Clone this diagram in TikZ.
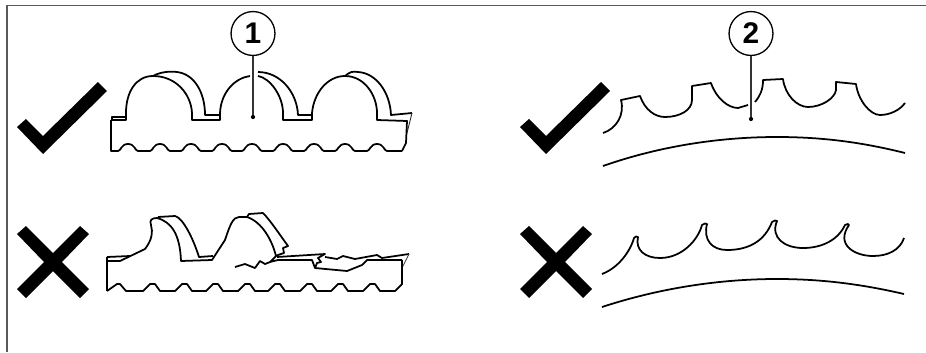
\documentclass[tikz,border=0pt]{standalone}
\usepackage{fontspec}
\setmainfont{Liberation Sans}
\usepackage{tikz}
\usetikzlibrary{positioning,calc}
\definecolor{frameGray}{HTML}{58595B}
\tikzset{
    profile/.style={draw=black, line width=1pt, line join=round},
    thinEdge/.style={draw=black!80, line width=0.5pt},
    callout/.style={
        circle,
        draw=black,
        fill=white,
        line width=0.75pt,
        minimum size=25pt,
        inner sep=0pt,
        font=\fontsize{17}{19}\selectfont\bfseries
    },
    leaderDot/.style={circle, fill=black, minimum size=2.4pt, inner sep=0pt},
    leader/.style={draw=black!80, line width=0.75pt}
}
\begin{document}
\begin{tikzpicture}[x=0.02cm, y=-0.02cm]
\useasboundingbox (0,0) rectangle (926,352);
% Frame
\draw[frameGray, line width=0.9pt] (7,352) -- (7,5.5) -- (926,5.5);

% Good / bad marks
\foreach \n/\dx in {a/0, b/503} {
    \fill[black, shift={(\dx,0)}] (17,127) -- (26,119) -- (43,136) -- (98,82) -- (107,91) -- (43,154) -- cycle;
    \fill[black, shift={(\dx,0)}] (17,234) -- (26,226) -- (53,253) -- (80,226) -- (89,234) -- (62,262)
        -- (89,289) -- (80,298) -- (53,271) -- (26,298) -- (17,289) -- (44,262) -- cycle;
}

% Intact belt: back edge
\draw[profile] (112,120) -- (112,117) -- (126,117);
\draw[profile] (153,76) .. controls (160,72) and (170,71) .. (177,72)
    .. controls (194,74) and (205,92) .. (205,115) -- (220,115);
\draw[profile] (258,72) .. controls (280,72) and (297,92) .. (298,115) -- (312,115);
\draw[profile] (345,76) .. controls (350,72) and (352,71) .. (358,72)
    .. controls (376,73) and (390,92) .. (391,115) -- (412,113);
\draw[thinEdge] (412,113) -- (407,133);
% Intact belt: front edge
\draw[profile] (111,120) -- (126,120) -- (126,113)
    .. controls (126,92) and (136,76) .. (153,76)
    .. controls (176,76) and (191,94) .. (192,113) -- (192,120) -- (220,120) -- (220,113)
    .. controls (221,92) and (235,78) .. (250,76);
\draw[profile] (258,76) .. controls (270,78) and (283,96) .. (283,113) -- (283,120) -- (312,120) -- (312,113)
    .. controls (314,92) and (328,76) .. (345,76)
    .. controls (365,76) and (377,96) .. (377,113) -- (377,120) -- (407,121) -- (406,143) -- (402,151);
\draw[profile] (111,120) -- (111,151)
    foreach \x in {128,160,191,222,252,283,314,345,377} {
        -- (\x-10,151) .. controls (\x-7,151) and (\x-7,144) .. (\x,144)
        .. controls (\x+7,144) and (\x+7,151) .. (\x+10,151)
    } -- (402,151);

% Damaged belt: back edge
\draw[profile] (107,257) -- (130,256);
\draw[profile] (158,217) -- (175,216) .. controls (183,218) and (193,238) .. (199,257) -- (213,256);
\draw[profile] (247,217) -- (249,214) -- (263,213) .. controls (270,220) and (280,235) .. (288,246)
    -- (283,248) -- (284,253) -- (278,255) -- (276,256);
% Damaged belt: front edge
\draw[profile] (107,257) -- (107,291);
\draw[profile] (107,261) -- (120,261) -- (145,249) .. controls (152,240) and (153,232) .. (151,225)
    .. controls (149,220) and (152,218) .. (157,218) .. controls (172,222) and (180,235) .. (181,261)
    -- (212,260) -- (225,240) .. controls (230,225) and (233,217) .. (239,217) -- (247,217)
    .. controls (262,222) and (272,240) .. (276,256) -- (270,262) -- (278,260) -- (312,260)
    -- (315,268) -- (347,271) -- (362,265) -- (367,260) -- (402,260);
% Damaged belt: cracks
\draw[profile] (235,267) -- (245,264) -- (255,268) -- (260,261) -- (265,264) -- (270,262);
\draw[profile] (277,257) -- (325,254) -- (318,258) -- (321,262) -- (317,263) -- (315,268);
\draw[profile] (325,257) -- (337,259) -- (343,256) -- (355,259) -- (377,255) -- (382,258) -- (409,254);
\draw[thinEdge] (409,254) -- (402,268);
% Damaged belt: worn teeth
\draw[profile] (107,291) -- (117,284) -- (120,284) -- (126,291)
    foreach \x in {150,182,213,245,275,307,338,370} {
        -- (\x-7,291) -- (\x,284) -- (\x+5,284) -- (\x+10,291)
    } -- (395,291) -- (402,284) -- (402,260);

% Intact tooth profile
\draw[profile] (603,133) .. controls (616,129) and (625,115) .. (621,100) -- (640,96)
    .. controls (645,110) and (655,117) .. (665,117) .. controls (680,117) and (692,110) .. (692,100) -- (692,86)
    -- (711,83) .. controls (716,98) and (728,108) .. (738,108) -- (748,105);
\draw[profile] (755,102) .. controls (760,96) and (763,90) .. (763,80) -- (783,79)
    .. controls (785,95) and (797,107) .. (808,107) .. controls (822,107) and (835,98) .. (836,90) -- (836,82)
    -- (856,84) .. controls (858,100) and (870,115) .. (880,115) .. controls (890,115) and (900,110) .. (905,103);
\draw[profile] (603,166) .. controls (660,146) and (720,137) .. (777,137) .. controls (825,137) and (865,143) .. (905,153);

% Worn tooth profile
\draw[profile] (602,274) .. controls (618,268) and (630,252) .. (634,238) -- (636,236.5) -- (638,237)
    .. controls (635,250) and (645,258) .. (660,258) .. controls (682,258) and (698,240) .. (702,225)
    -- (705,223.5) -- (707,224) .. controls (703,240) and (712,250) .. (727,250)
    .. controls (750,250) and (765,240) .. (772,222) -- (775,220.5) -- (777,221)
    .. controls (770,238) and (785,248) .. (803,248) .. controls (822,248) and (838,240) .. (845,225)
    -- (848,224) -- (849,225) .. controls (835,245) and (855,256) .. (873,256)
    .. controls (888,256) and (900,250) .. (904,238);
\draw[profile] (602,307) .. controls (660,288) and (720,279) .. (777,279) .. controls (825,279) and (865,285) .. (904,294);

% Callouts
\node[callout] (c1) at (253,33.5) {1};
\node[callout] (c2) at (751,33.5) {2};
\node[leaderDot] (d1) at (253,117) {};
\node[leaderDot] (d2) at (751,119) {};
\draw[leader] (c1) -- (d1);
\draw[leader] (c2) -- (d2);
\end{tikzpicture}
\end{document}
